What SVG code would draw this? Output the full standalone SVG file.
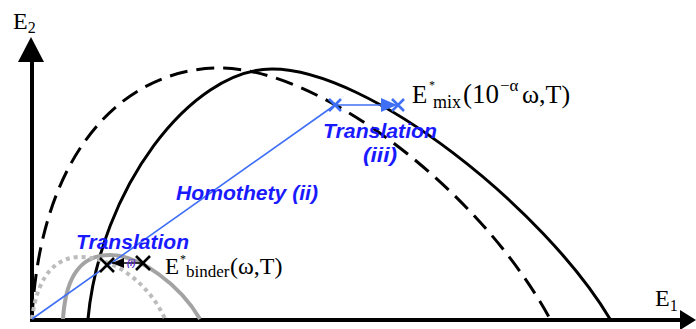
<svg xmlns="http://www.w3.org/2000/svg" width="696" height="329" viewBox="0 0 696 329">
<defs>
<style>
.ax{stroke:#000;stroke-width:4;fill:none}
.curve{stroke:#000;stroke-width:3;fill:none}
.dash{stroke-dasharray:18 9}
.bind{stroke:#a3a3a3;stroke-width:4;fill:none}
.dot{stroke:#bcbcbc;stroke-dasharray:4 4}
.bl{stroke:#3f6ff5;stroke-width:1.6;fill:none}
.bx{stroke:#3f6ff5;stroke-width:2.6;fill:none}
.kx{stroke:#000;stroke-width:2.6;fill:none}
.lbl{font-family:"Liberation Serif","Times New Roman",serif;fill:#000}
.bt{font-family:"Liberation Sans",Arial,sans-serif;font-weight:bold;font-style:italic;fill:#1a1aff;font-size:20px}
</style>
<marker id="ab" viewBox="0 0 16 14" refX="16" refY="7" markerWidth="16" markerHeight="14" markerUnits="userSpaceOnUse" orient="auto"><path d="M0,0L16,7L0,14Z" fill="#3f6ff5"/></marker>
<marker id="ak" viewBox="0 0 12 10" refX="12" refY="5" markerWidth="12" markerHeight="10" markerUnits="userSpaceOnUse" orient="auto"><path d="M0,0L12,5L0,10Z" fill="#000"/></marker>
</defs>
<rect width="696" height="329" fill="#fff"/>
<g id="axes">
<line class="ax" x1="32" y1="320" x2="32" y2="60"/>
<path d="M31,37L44,62L18,62Z" fill="#000"/>
<line class="ax" x1="30" y1="320" x2="682" y2="320"/>
<path d="M696,320L680,310L680,330Z" fill="#000"/>
<text class="lbl" x="13" y="29" font-size="24">E<tspan font-size="16" dy="4">2</tspan></text>
<text class="lbl" x="655" y="306" font-size="24">E<tspan font-size="16" dy="5">1</tspan></text>
</g>
<g id="mix-solid">
<path class="curve" d="M88,319C100,190 190,69 272,69C370,69 545,210 610,319"/>
</g>
<g id="mix-dashed">
<path class="curve dash" d="M32,319C40,150 125,68 220,68C320,68 480,190 550,319"/>
</g>
<g id="binder-solid">
<path class="bind" d="M63,319C66,270 85,255 110,255C140,255 180,285 200,319"/>
</g>
<g id="binder-dotted">
<path class="bind dot" d="M32,319C38,270 60,257 80,257C115,257 150,285 165,319"/>
</g>
<g id="connectors">
<line class="bl" x1="32" y1="319" x2="335" y2="105"/>
<line class="bl" x1="336" y1="105" x2="397" y2="105" stroke-width="2.5" marker-end="url(#ab)"/>
<line x1="143" y1="263" x2="112" y2="263" stroke="#000" stroke-width="1.5" marker-end="url(#ak)"/>
</g>
<g id="markers">
<path class="bx" d="M329,99L341,111M341,99L329,111"/>
<path class="bx" d="M392,99L404,111M404,99L392,111"/>
<path class="kx" d="M100,258L114,272M114,258L100,272"/>
<path class="kx" d="M136,256L150,270M150,256L136,270"/>
</g>
<g id="label-mix">
<text class="lbl" x="412" y="103" font-size="25">E</text>
<text class="lbl" x="429" y="89" font-size="12">*</text>
<text class="lbl" x="433" y="108" font-size="18">mix</text>
<text class="lbl" x="463" y="103" font-size="27">(10</text>
<text class="lbl" x="500" y="91" font-size="17">−α</text>
<text class="lbl" x="522" y="103" font-size="26">ω,T)</text>
</g>
<g id="label-binder">
<text class="lbl" x="165" y="274" font-size="23">E</text>
<text class="lbl" x="180" y="263" font-size="12">*</text>
<text class="lbl" x="186" y="277" font-size="17">binder</text>
<text class="lbl" x="230" y="274" font-size="24">(ω,T)</text>
</g>
<g id="label-translation-i">
<text class="bt" x="76" y="249" textLength="113" lengthAdjust="spacingAndGlyphs">Translation</text>
<text x="127" y="266" font-family="Liberation Sans,Arial,sans-serif" font-size="9" font-style="italic" font-weight="bold" fill="#5a2ad0">(i)</text>
</g>
<g id="label-homothety">
<text class="bt" x="176" y="200" textLength="142" lengthAdjust="spacingAndGlyphs">Homothety (ii)</text>
</g>
<g id="label-translation-iii">
<text class="bt" x="323" y="138" textLength="114" lengthAdjust="spacingAndGlyphs">Translation</text>
<text class="bt" x="363" y="162" textLength="34" lengthAdjust="spacingAndGlyphs">(iii)</text>
</g>
</svg>
